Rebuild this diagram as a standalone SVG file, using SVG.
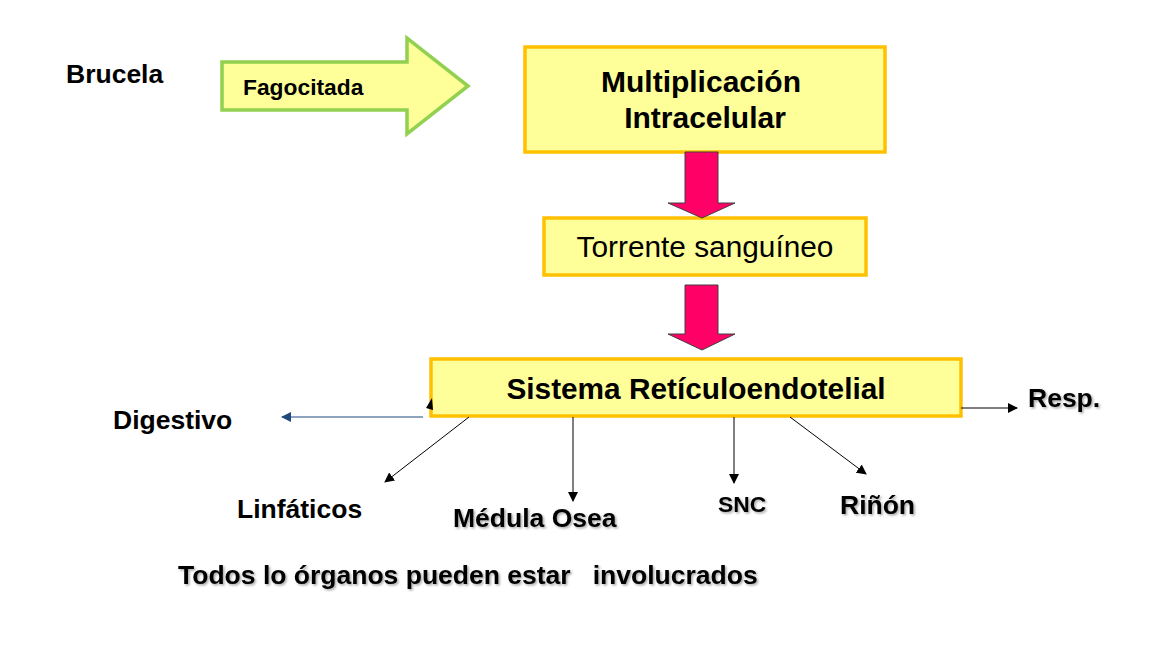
<svg xmlns="http://www.w3.org/2000/svg" width="1159" height="662" viewBox="0 0 1159 662">
<style>
.box{fill:#FFFF99;stroke:#FFC000;stroke-width:3.5}
.t{font-family:"Liberation Sans",Arial,sans-serif;fill:#000}
.b{font-weight:bold}
.lbl{font-family:"Liberation Sans",Arial,sans-serif;font-weight:bold;font-size:26.5px;fill:#000}
.sh{filter:url(#shadow)}
.con{stroke:#000;stroke-width:1;fill:none}
.red{fill:#FF0066;stroke:#404040;stroke-width:1}
</style>
<defs>
<marker id="ah" viewBox="0 0 10 10" refX="9" refY="5" markerWidth="10" markerHeight="10" markerUnits="userSpaceOnUse" orient="auto">
<path d="M0,0 L10,5 L0,10 z" fill="#000"/>
</marker>
<marker id="ahb" viewBox="0 0 10 10" refX="9" refY="5" markerWidth="10" markerHeight="10" markerUnits="userSpaceOnUse" orient="auto">
<path d="M0,0 L10,5 L0,10 z" fill="#1F497D"/>
</marker>
<filter id="shadow" x="-5%" y="-20%" width="110%" height="140%">
<feDropShadow dx="1.5" dy="1.5" stdDeviation="0.8" flood-color="#000" flood-opacity="0.35"/>
</filter>
</defs>
<rect width="1159" height="662" fill="#fff"/>

<g id="brucela"><text class="lbl" x="66" y="83">Brucela</text></g>

<g id="fagocitada">
<path d="M222,62 L407,62 L407,38 L468,86 L407,134 L407,110 L222,110 z" fill="#FFFF99" stroke="#92D050" stroke-width="3.5" stroke-linejoin="miter"/>
<text class="t b" x="243" y="95" font-size="22.8">Fagocitada</text>
</g>

<g id="multiplicacion">
<rect class="box" x="525" y="47" width="360" height="105"/>
<text class="t b" x="701" y="92" font-size="30" text-anchor="middle">Multiplicación</text>
<text class="t b" x="705" y="128" font-size="30" text-anchor="middle">Intracelular</text>
</g>

<g id="torrente">
<rect class="box" x="544" y="218" width="322" height="57"/>
<text class="t" x="705" y="257" font-size="29.8" text-anchor="middle">Torrente sanguíneo</text>
</g>

<g id="sre">
<rect class="box" x="431" y="359" width="530" height="57"/>
<text class="t b" x="696" y="399" font-size="29.8" text-anchor="middle">Sistema Retículoendotelial</text>
</g>

<g id="digestivo"><text class="lbl" x="113" y="429">Digestivo</text></g>
<g id="linfaticos"><text class="lbl" x="237" y="518">Linfáticos</text></g>
<g id="medula"><text class="lbl sh" x="453" y="527">Médula Osea</text></g>
<g id="snc"><text class="t b sh" x="718" y="512" font-size="22.8">SNC</text></g>
<g id="rinon"><text class="lbl sh" x="840" y="514">Riñón</text></g>
<g id="resp"><text class="lbl sh" x="1028" y="407">Resp.</text></g>
<g id="todos"><text class="lbl sh" x="178" y="584" xml:space="preserve">Todos lo órganos pueden estar   involucrados</text></g>

<g id="connectors">
<path class="red" d="M685,152 L718,152 L718,203 L735,203 L702,218 L668,203 L685,203 z"/>
<path class="red" d="M685,285 L718,285 L718,334 L735,334 L702,350 L668,334 L685,334 z"/>
<line x1="423" y1="417" x2="282" y2="417" stroke="#1F497D" stroke-width="1.2" marker-end="url(#ahb)"/>
<path d="M432,398 L426,408 L433,410 z" fill="#000"/>
<line class="con" x1="469" y1="417" x2="385" y2="482" marker-end="url(#ah)"/>
<line class="con" x1="573" y1="417" x2="573" y2="501" marker-end="url(#ah)"/>
<line class="con" x1="734" y1="417" x2="734" y2="483" marker-end="url(#ah)"/>
<line class="con" x1="790" y1="417" x2="866" y2="474" marker-end="url(#ah)"/>
<line class="con" x1="961" y1="408" x2="1017" y2="408" marker-end="url(#ah)"/>
</g>
</svg>
